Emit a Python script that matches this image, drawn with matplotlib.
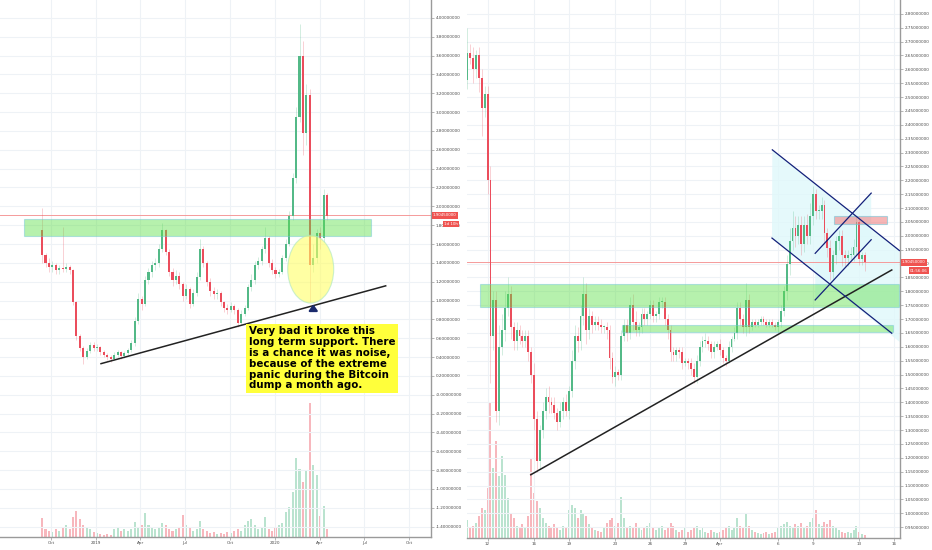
import numpy as np
import pandas as pd
import matplotlib
matplotlib.use("Agg")
import matplotlib.pyplot as plt
import matplotlib.dates as mdates
from matplotlib.patches import Rectangle, Ellipse, Polygon
from matplotlib.ticker import FuncFormatter, FixedLocator

# ---------------- left chart: weekly candles, Sep 2018 - Apr 2020 ----------------
left_start = "2018-09-13"
left_open0 = 1.75
left_close = [1.48, 1.40, 1.36, 1.38, 1.32, 1.35, 1.33, 1.36, 1.32, 0.98,
              0.62, 0.50, 0.40, 0.46, 0.53, 0.50, 0.51, 0.45, 0.42, 0.40,
              0.38, 0.42, 0.45, 0.41, 0.44, 0.47, 0.55, 0.78, 1.02, 0.96,
              1.22, 1.30, 1.38, 1.40, 1.55, 1.75, 1.52, 1.30, 1.22, 1.26,
              1.18, 1.05, 1.12, 0.96, 1.08, 1.25, 1.55, 1.40, 1.20, 1.10,
              1.07, 1.08, 0.98, 0.92, 0.90, 0.94, 0.90, 0.76, 0.86, 0.92,
              1.14, 1.22, 1.38, 1.42, 1.55, 1.66, 1.40, 1.32, 1.28, 1.30,
              1.45, 1.60, 1.90, 2.30, 2.95, 3.60, 2.78, 3.18, 1.38, 1.45,
              1.72, 1.66, 2.12, 1.90]
left_high = [1.98, 1.50, 1.45, 1.42, 1.40, 1.38, 1.78, 1.40, 1.38, 1.33,
             1.00, 0.64, 0.52, 0.50, 0.56, 0.56, 0.54, 0.52, 0.47, 0.44,
             0.42, 0.45, 0.48, 0.46, 0.46, 0.50, 0.58, 0.82, 1.08, 1.05,
             1.26, 1.35, 1.42, 1.45, 1.60, 1.82, 1.76, 1.55, 1.35, 1.32,
             1.30, 1.20, 1.18, 1.14, 1.12, 1.30, 1.65, 1.58, 1.42, 1.24,
             1.14, 1.12, 1.10, 1.00, 0.96, 0.98, 0.96, 0.92, 0.90, 0.95,
             1.18, 1.28, 1.42, 1.46, 1.58, 1.78, 1.68, 1.44, 1.36, 1.34,
             1.48, 1.65, 1.95, 2.35, 3.05, 3.93, 3.75, 3.30, 3.25, 1.60,
             1.76, 1.78, 2.18, 2.14]
left_low = [1.40, 1.36, 1.30, 1.30, 1.28, 1.28, 1.30, 1.30, 1.28, 0.95,
            0.58, 0.46, 0.33, 0.38, 0.44, 0.46, 0.46, 0.42, 0.40, 0.37,
            0.35, 0.37, 0.40, 0.38, 0.39, 0.42, 0.45, 0.52, 0.75, 0.90,
            0.94, 1.18, 1.25, 1.32, 1.36, 1.52, 1.48, 1.26, 1.15, 1.18,
            1.12, 1.00, 1.02, 0.92, 0.94, 1.05, 1.22, 1.36, 1.15, 1.05,
            1.02, 1.02, 0.94, 0.88, 0.86, 0.88, 0.86, 0.72, 0.74, 0.84,
            0.90, 1.10, 1.18, 1.34, 1.38, 1.50, 1.36, 1.28, 1.24, 1.25,
            1.28, 1.42, 1.58, 1.85, 2.25, 2.90, 2.55, 2.65, 0.98, 1.30,
            1.40, 1.55, 1.62, 1.86]
left_vol = [19, 8, 6, 5, 8, 6, 10, 12, 8, 20, 26, 18, 12, 10, 8, 5, 4, 3, 2, 3,
            2, 8, 10, 6, 8, 6, 8, 15, 10, 12, 24, 12, 10, 8, 10, 14, 12, 8, 6, 8,
            10, 22, 12, 10, 6, 8, 16, 8, 6, 4, 5, 3, 4, 3, 5, 4, 6, 8, 6, 12,
            16, 18, 12, 8, 10, 20, 8, 6, 10, 12, 14, 25, 30, 45, 79, 68, 55, 66, 134, 72,
            62, 21, 31, 8]
left_yticks = np.round(np.arange(-1.4, 4.21, 0.2), 1)
left_xticks = ["2018-10-01", "2019-01-01", "2019-04-01", "2019-07-01", "2019-10-01",
               "2020-01-01", "2020-04-01", "2020-07-01", "2020-10-01"]
left_xlabels = ["Oct", "2019", "Apr", "Jul", "Oct", "2020", "Apr", "Jul", "Oct"]

# ---------------- right chart: 6h candles, Mar 10 - Apr 13 2020 ----------------
right_start = "2020-03-10 06:00"
right_open0 = 2.56
right_close = [2.66, 2.64, 2.60, 2.65, 2.57, 2.46, 2.51, 2.20, 1.64, 1.77,
               1.37, 1.60, 1.66, 1.74, 1.79, 1.67, 1.62, 1.66, 1.64, 1.62,
               1.64, 1.58, 1.50, 1.34, 1.19, 1.30, 1.37, 1.42, 1.40, 1.39,
               1.36, 1.33, 1.37, 1.40, 1.37, 1.44, 1.55, 1.64, 1.62, 1.71,
               1.79, 1.66, 1.71, 1.68, 1.69, 1.68, 1.67, 1.67, 1.66, 1.56,
               1.49, 1.51, 1.50, 1.64, 1.68, 1.65, 1.75, 1.69, 1.66, 1.67,
               1.72, 1.70, 1.72, 1.75, 1.71, 1.72, 1.76, 1.76, 1.70, 1.66,
               1.58, 1.57, 1.59, 1.58, 1.54, 1.55, 1.54, 1.52, 1.49, 1.55,
               1.60, 1.62, 1.62, 1.61, 1.58, 1.60, 1.61, 1.59, 1.56, 1.55,
               1.60, 1.63, 1.65, 1.74, 1.70, 1.67, 1.77, 1.67, 1.69, 1.68,
               1.69, 1.70, 1.69, 1.68, 1.69, 1.68, 1.67, 1.69, 1.73, 1.80,
               1.90, 1.98, 2.03, 2.00, 2.04, 1.97, 2.04, 2.00, 2.07, 2.15,
               2.09, 2.09, 2.11, 2.01, 1.955, 1.87, 1.93, 1.98, 2.00, 1.93,
               1.92, 1.93, 1.93, 1.96, 2.05, 1.915, 1.93, 1.9045]
right_wick_up = [0.09, 0.03, 0.04, 0.02, 0.03, 0.03, 0.03, 0.03, 0.05, 0.03,
                 0.03, 0.08, 0.06, 0.06, 0.06, 0.03, 0.02, 0.03, 0.02, 0.02,
                 0.02, 0.02, 0.02, 0.04, 0.03, 0.02, 0.03, 0.03, 0.04, 0.02,
                 0.03, 0.02, 0.03, 0.02, 0.03, 0.02, 0.04, 0.04, 0.03, 0.04,
                 0.06, 0.04, 0.03, 0.02, 0.02, 0.02, 0.02, 0.01, 0.02, 0.02,
                 0.02, 0.02, 0.01, 0.02, 0.02, 0.02, 0.03, 0.04, 0.04, 0.02,
                 0.02, 0.02, 0.01, 0.02, 0.02, 0.01, 0.02, 0.02, 0.02, 0.02,
                 0.02, 0.02, 0.01, 0.01, 0.02, 0.01, 0.01, 0.02, 0.02, 0.02,
                 0.02, 0.02, 0.03, 0.02, 0.01, 0.02, 0.01, 0.02, 0.01, 0.01,
                 0.02, 0.01, 0.02, 0.02, 0.02, 0.02, 0.06, 0.02, 0.01, 0.01,
                 0.01, 0.01, 0.01, 0.01, 0.01, 0.01, 0.01, 0.01, 0.02, 0.02,
                 0.03, 0.05, 0.06, 0.04, 0.03, 0.03, 0.03, 0.04, 0.05, 0.03,
                 0.02, 0.02, 0.03, 0.02, 0.02, 0.03, 0.02, 0.02, 0.02, 0.02,
                 0.02, 0.02, 0.03, 0.03, 0.02, 0.02, 0.01, 0.01]
right_wick_dn = [0.03, 0.02, 0.05, 0.03, 0.05, 0.10, 0.03, 0.05, 0.17, 0.05,
                 0.04, 0.05, 0.03, 0.04, 0.03, 0.04, 0.03, 0.03, 0.03, 0.02,
                 0.02, 0.03, 0.03, 0.04, 0.04, 0.03, 0.03, 0.03, 0.04, 0.03,
                 0.02, 0.03, 0.02, 0.03, 0.02, 0.03, 0.02, 0.03, 0.04, 0.03,
                 0.03, 0.05, 0.03, 0.03, 0.02, 0.02, 0.02, 0.02, 0.03, 0.04,
                 0.02, 0.03, 0.02, 0.02, 0.02, 0.03, 0.02, 0.03, 0.02, 0.02,
                 0.02, 0.02, 0.02, 0.02, 0.02, 0.02, 0.02, 0.02, 0.02, 0.03,
                 0.03, 0.02, 0.02, 0.02, 0.02, 0.01, 0.02, 0.02, 0.02, 0.02,
                 0.02, 0.02, 0.02, 0.02, 0.02, 0.02, 0.01, 0.02, 0.02, 0.02,
                 0.01, 0.02, 0.01, 0.02, 0.02, 0.02, 0.03, 0.02, 0.01, 0.01,
                 0.01, 0.01, 0.01, 0.01, 0.01, 0.01, 0.01, 0.02, 0.02, 0.02,
                 0.03, 0.04, 0.03, 0.04, 0.03, 0.04, 0.03, 0.03, 0.03, 0.03,
                 0.03, 0.03, 0.03, 0.04, 0.03, 0.03, 0.03, 0.03, 0.03, 0.04,
                 0.03, 0.03, 0.02, 0.02, 0.03, 0.02, 0.02, 0.03]
right_vol = [18, 10, 12, 15, 22, 30, 28, 50, 135, 70, 97, 62, 82, 63, 40, 25, 20, 12, 10, 14,
             10, 22, 80, 45, 37, 30, 20, 15, 12, 10, 14, 10, 8, 12, 10, 28, 33, 30, 20, 28,
             25, 22, 14, 10, 8, 7, 6, 10, 15, 18, 20, 12, 15, 41, 20, 10, 12, 10, 15, 10,
             8, 10, 12, 15, 10, 8, 10, 12, 8, 10, 15, 12, 8, 6, 8, 10, 6, 8, 10, 12,
             8, 10, 6, 5, 8, 6, 5, 6, 8, 10, 12, 8, 10, 20, 12, 10, 25, 12, 8, 6,
             5, 4, 5, 6, 4, 5, 6, 10, 12, 14, 16, 12, 10, 14, 12, 15, 10, 12, 16, 20,
             28, 14, 12, 16, 14, 18, 12, 10, 8, 6, 5, 6, 5, 8, 12, 6, 4, 3]
right_yticks = np.round(np.arange(0.95, 2.801, 0.05), 2)
right_xticks = ["2020-03-12", "2020-03-16", "2020-03-19", "2020-03-23", "2020-03-26",
                "2020-03-29", "2020-04-01", "2020-04-06", "2020-04-09", "2020-04-13",
                "2020-04-16"]
right_xlabels = ["12", "16", "19", "23", "26", "29", "Apr", "6", "9", "13", "16"]

last_price = 1.9045

UP, DN = "#53b987", "#eb4d5c"
GRID = "#eef2f6"
AXC = "#9a9a9a"
TXT = "#4a4a4a"
W, H = 932, 550


def d(s):
    return mdates.date2num(pd.Timestamp(s))


def candles(ax, t, o, c, h, l, width):
    o = np.asarray(o); c = np.asarray(c)
    up = c >= o
    cols = np.where(up, UP, DN)
    ax.vlines(t, l, h, colors=cols, linewidth=0.6, alpha=0.3, zorder=3)
    body = np.maximum(np.abs(c - o), 0.004)
    ax.bar(t, body, bottom=np.minimum(o, c), width=width, color=cols,
           linewidth=0, zorder=3)


def volume(ax, t, vol, up, width, ymax):
    vax = ax.twinx()
    vax.bar(t, vol, width=width, color=np.where(up, UP, DN), alpha=0.4, linewidth=0)
    vax.set_ylim(0, ymax)
    vax.axis("off")
    vax.set_zorder(0)
    return vax


def style(ax, yticks, xticks, xlabels):
    ax.yaxis.tick_right()
    ax.yaxis.set_major_locator(FixedLocator(yticks))
    ax.yaxis.set_major_formatter(FuncFormatter(lambda v, p: "%.8f" % v if abs(v) > 1e-9 else "-0.00000000"))
    ax.set_xticks([d(x) for x in xticks])
    ax.set_xticklabels(xlabels)
    ax.tick_params(axis="both", labelsize=3.0, colors=AXC, labelcolor=TXT,
                   length=2, width=0.5, pad=1.2)
    ax.grid(True, color=GRID, linewidth=0.8)
    ax.set_axisbelow(True)
    for s in ["top", "left"]:
        ax.spines[s].set_visible(False)
    for s in ["right", "bottom"]:
        ax.spines[s].set_color(AXC)
        ax.spines[s].set_linewidth(1.0)
    ax.patch.set_alpha(0)


def tag(x, y, s):
    # price / countdown tags on the price scale, placed in pixels
    fig.text(x / W, 1 - y / H, s, fontsize=2.9, color="white", va="center", ha="left",
             zorder=10, bbox=dict(boxstyle="square,pad=0.35", fc="#ef5350", ec="none"))


fig = plt.figure(figsize=(W / 100, H / 100), dpi=100)
fig.patch.set_facecolor("white")

# ---------------- left panel ----------------
axL = fig.add_axes([0, 13 / H, 431 / W, 537 / H])
base = d("2019-01-01")
tL = mdates.date2num(pd.date_range(left_start, periods=len(left_close), freq="7D"))
oL = [left_open0] + left_close[:-1]
vaxL = volume(axL, tL, left_vol, np.array(left_close) >= np.array(oL), 4.2, 537)
axL.set_zorder(1)
candles(axL, tL, oL, left_close, left_high, left_low, 4.2)
axL.set_xlim(base - 195.8, base + 683.1)
axL.set_ylim(-1.51, 4.19)
style(axL, left_yticks, left_xticks, left_xlabels)
axL.axhline(last_price, color="#f59a9a", linewidth=0.7, zorder=2)

axL.add_patch(Rectangle((base - 146.2, 1.69), 707.0, 0.175, fc="#5fe04a", alpha=0.45,
                        ec="#6cc4d8", lw=0.8, zorder=4))
axL.add_patch(Ellipse((base + 437.8, 1.333), 93.8, 0.72, fc="#ffff66", alpha=0.6,
                      ec="#a8e6c0", lw=0.8, zorder=4))
axL.plot([base + 10.2, base + 590.7], [0.33, 1.156], color="#222222", lw=1.1, zorder=5)
axL.annotate("", xy=(base + 443, 0.99), xytext=(base + 443, 0.86),
             arrowprops=dict(arrowstyle="-|>,head_width=0.25,head_length=0.35",
                             color="#1a2a6c", lw=1.6), zorder=6)
axL.text(base + 311.0, 0.725,
         "Very bad it broke this\nlong term support. There\nis a chance it was noise,\n"
         "because of the extreme\npanic during the Bitcoin\ndump a month ago.",
         fontsize=7.4, fontweight="bold", color="black", va="top", ha="left",
         linespacing=1.1, zorder=7,
         bbox=dict(boxstyle="square,pad=0.25", fc="#ffff3b", ec="none"))

# ---------------- right panel ----------------
axR = fig.add_axes([467 / W, 12 / H, 433 / W, 538 / H])
m12 = d("2020-03-12")
tR = mdates.date2num(pd.date_range(right_start, periods=len(right_close), freq="6h"))
oR = np.array([right_open0] + right_close[:-1])
cR = np.array(right_close)
hR = np.maximum(oR, cR) + np.array(right_wick_up)
lR = np.minimum(oR, cR) - np.array(right_wick_dn)
vaxR = volume(axR, tR, right_vol, cR >= oR, 0.17, 538)
axR.set_zorder(1)

# channel fills (behind candles)
axR.add_patch(Polygon([(m12 + 24.51, 2.31), (m12 + 35.45, 1.947),
                       (m12 + 35.45, 1.618), (m12 + 24.48, 1.992)],
                      fc="#dff8fb", ec="none", alpha=0.8, zorder=1))
axR.add_patch(Polygon([(m12 + 28.2, 1.937), (m12 + 33.02, 2.154),
                       (m12 + 33.02, 1.986), (m12 + 28.2, 1.769)],
                      fc="#dff8fb", ec="none", alpha=0.8, zorder=1))

candles(axR, tR, oR, cR, hR, lR, 0.16)
axR.set_xlim(d("2020-03-10 05:30"), m12 + 35.5)
axR.set_ylim(0.911, 2.85)
style(axR, right_yticks, right_xticks, right_xlabels)
axR.axhline(last_price, color="#f59a9a", linewidth=0.7, zorder=2)

axR.add_patch(Rectangle((m12 - 0.636, 1.745), 36.06, 0.081, fc="#5fe04a", alpha=0.45,
                        ec="#6cc4d8", lw=0.8, zorder=4))
axR.add_patch(Rectangle((m12 + 11.54, 1.652), 23.34, 0.027, fc="#5fe04a", alpha=0.45,
                        ec="#6cc4d8", lw=0.8, zorder=4))
axR.add_patch(Rectangle((m12 + 29.86, 2.043), 4.5, 0.027, fc="#f07a7a", alpha=0.55,
                        ec="#6cc4d8", lw=0.8, zorder=4))
axR.plot([m12 + 3.72, m12 + 34.79], [1.139, 1.877], color="#222222", lw=1.1, zorder=5)
navy = "#13207a"
axR.plot([m12 + 24.51, m12 + 35.45], [2.31, 1.947], color=navy, lw=0.9, zorder=5)
axR.plot([m12 + 24.48, m12 + 34.79], [1.992, 1.649], color=navy, lw=0.9, zorder=5)
axR.plot([m12 + 28.2, m12 + 33.02], [1.937, 2.154], color=navy, lw=0.9, zorder=5)
axR.plot([m12 + 28.2, m12 + 33.02], [1.769, 1.986], color=navy, lw=0.9, zorder=5)

tag(433, 215.5, "%.8f" % last_price)
tag(444, 224.0, "1d 10h")
tag(902, 262.3, "%.8f" % last_price)
tag(910, 270.7, "01:56:06")

fig.savefig("out.png", dpi=100)
